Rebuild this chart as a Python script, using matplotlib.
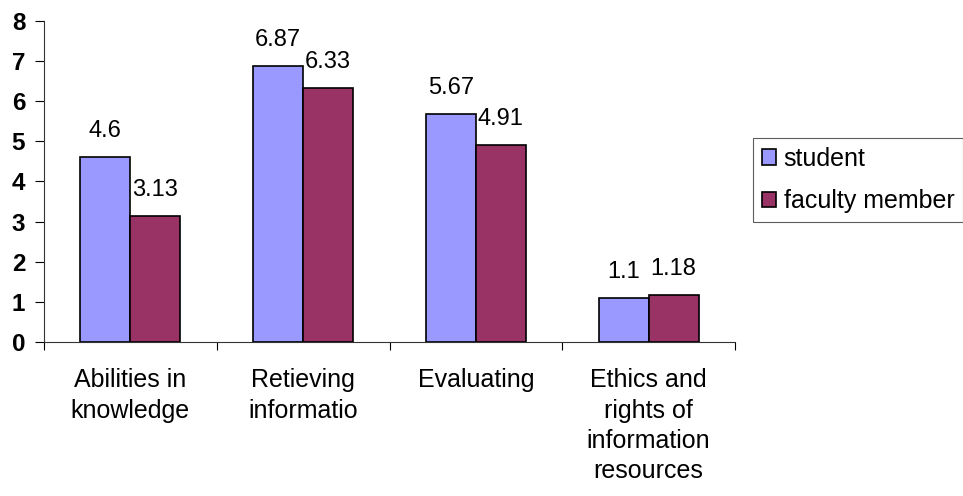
import matplotlib
matplotlib.use("Agg")
import matplotlib.pyplot as plt
import numpy as np

categories = ["Abilities in\nknowledge", "Retieving\ninformatio", "Evaluating",
              "Ethics and\nrights of\ninformation\nresources"]
student = [4.6, 6.87, 5.67, 1.1]
faculty = [3.13, 6.33, 4.91, 1.18]
series_names = ["student", "faculty member"]

plt.rcParams["font.family"] = ["Liberation Sans", "DejaVu Sans"]

fig = plt.figure(figsize=(9.63, 4.96), dpi=100)
ax = fig.add_axes([44 / 963, 154 / 496, 691 / 963, 321 / 496])

x = np.arange(len(categories))
w = 0.29
b1 = ax.bar(x - w / 2, student, w, color="#9999FF", edgecolor="black", lw=1.2,
            label=series_names[0])
b2 = ax.bar(x + w / 2, faculty, w, color="#993366", edgecolor="black", lw=1.2,
            label=series_names[1])

for bars, vals in ((b1, student), (b2, faculty)):
    for r, v in zip(bars, vals):
        ax.annotate(f"{v:g}", (r.get_x() + r.get_width() / 2, v),
                    xytext=(0, 14.4), textcoords="offset points",
                    ha="center", va="baseline", fontsize=17)

ax.set_xlim(-0.5, len(categories) - 0.5)
ax.set_ylim(0, 8)
ax.set_yticks(range(0, 9))
ax.tick_params(axis="y", labelsize=17.5, length=6.5, width=0.8, pad=7)
for t in ax.get_yticklabels():
    t.set_fontweight("bold")

ax.set_xticks(x)
ax.set_xticklabels(categories, fontsize=18, linespacing=1.33, va="top")
ax.tick_params(axis="x", length=0, pad=19)
# boundary ticks between categories
ax.set_xticks(np.arange(-0.5, len(categories)), minor=True)
ax.tick_params(axis="x", which="minor", length=5.5, width=0.8, direction="out")

for s in ("top", "right"):
    ax.spines[s].set_visible(False)
for s in ("left", "bottom"):
    ax.spines[s].set_color("#333333")
    ax.spines[s].set_linewidth(0.8)

leg = fig.legend(loc="upper left", bbox_to_anchor=(753 / 963, 1 - 138 / 496),
                 fontsize=18, frameon=True, fancybox=False, edgecolor="#333333",
                 handlelength=0.56, handleheight=0.56, handletextpad=0.32,
                 labelspacing=0.74, borderpad=0.35, borderaxespad=0)
leg.get_frame().set_linewidth(0.8)

fig.savefig("out.png", dpi=100)
